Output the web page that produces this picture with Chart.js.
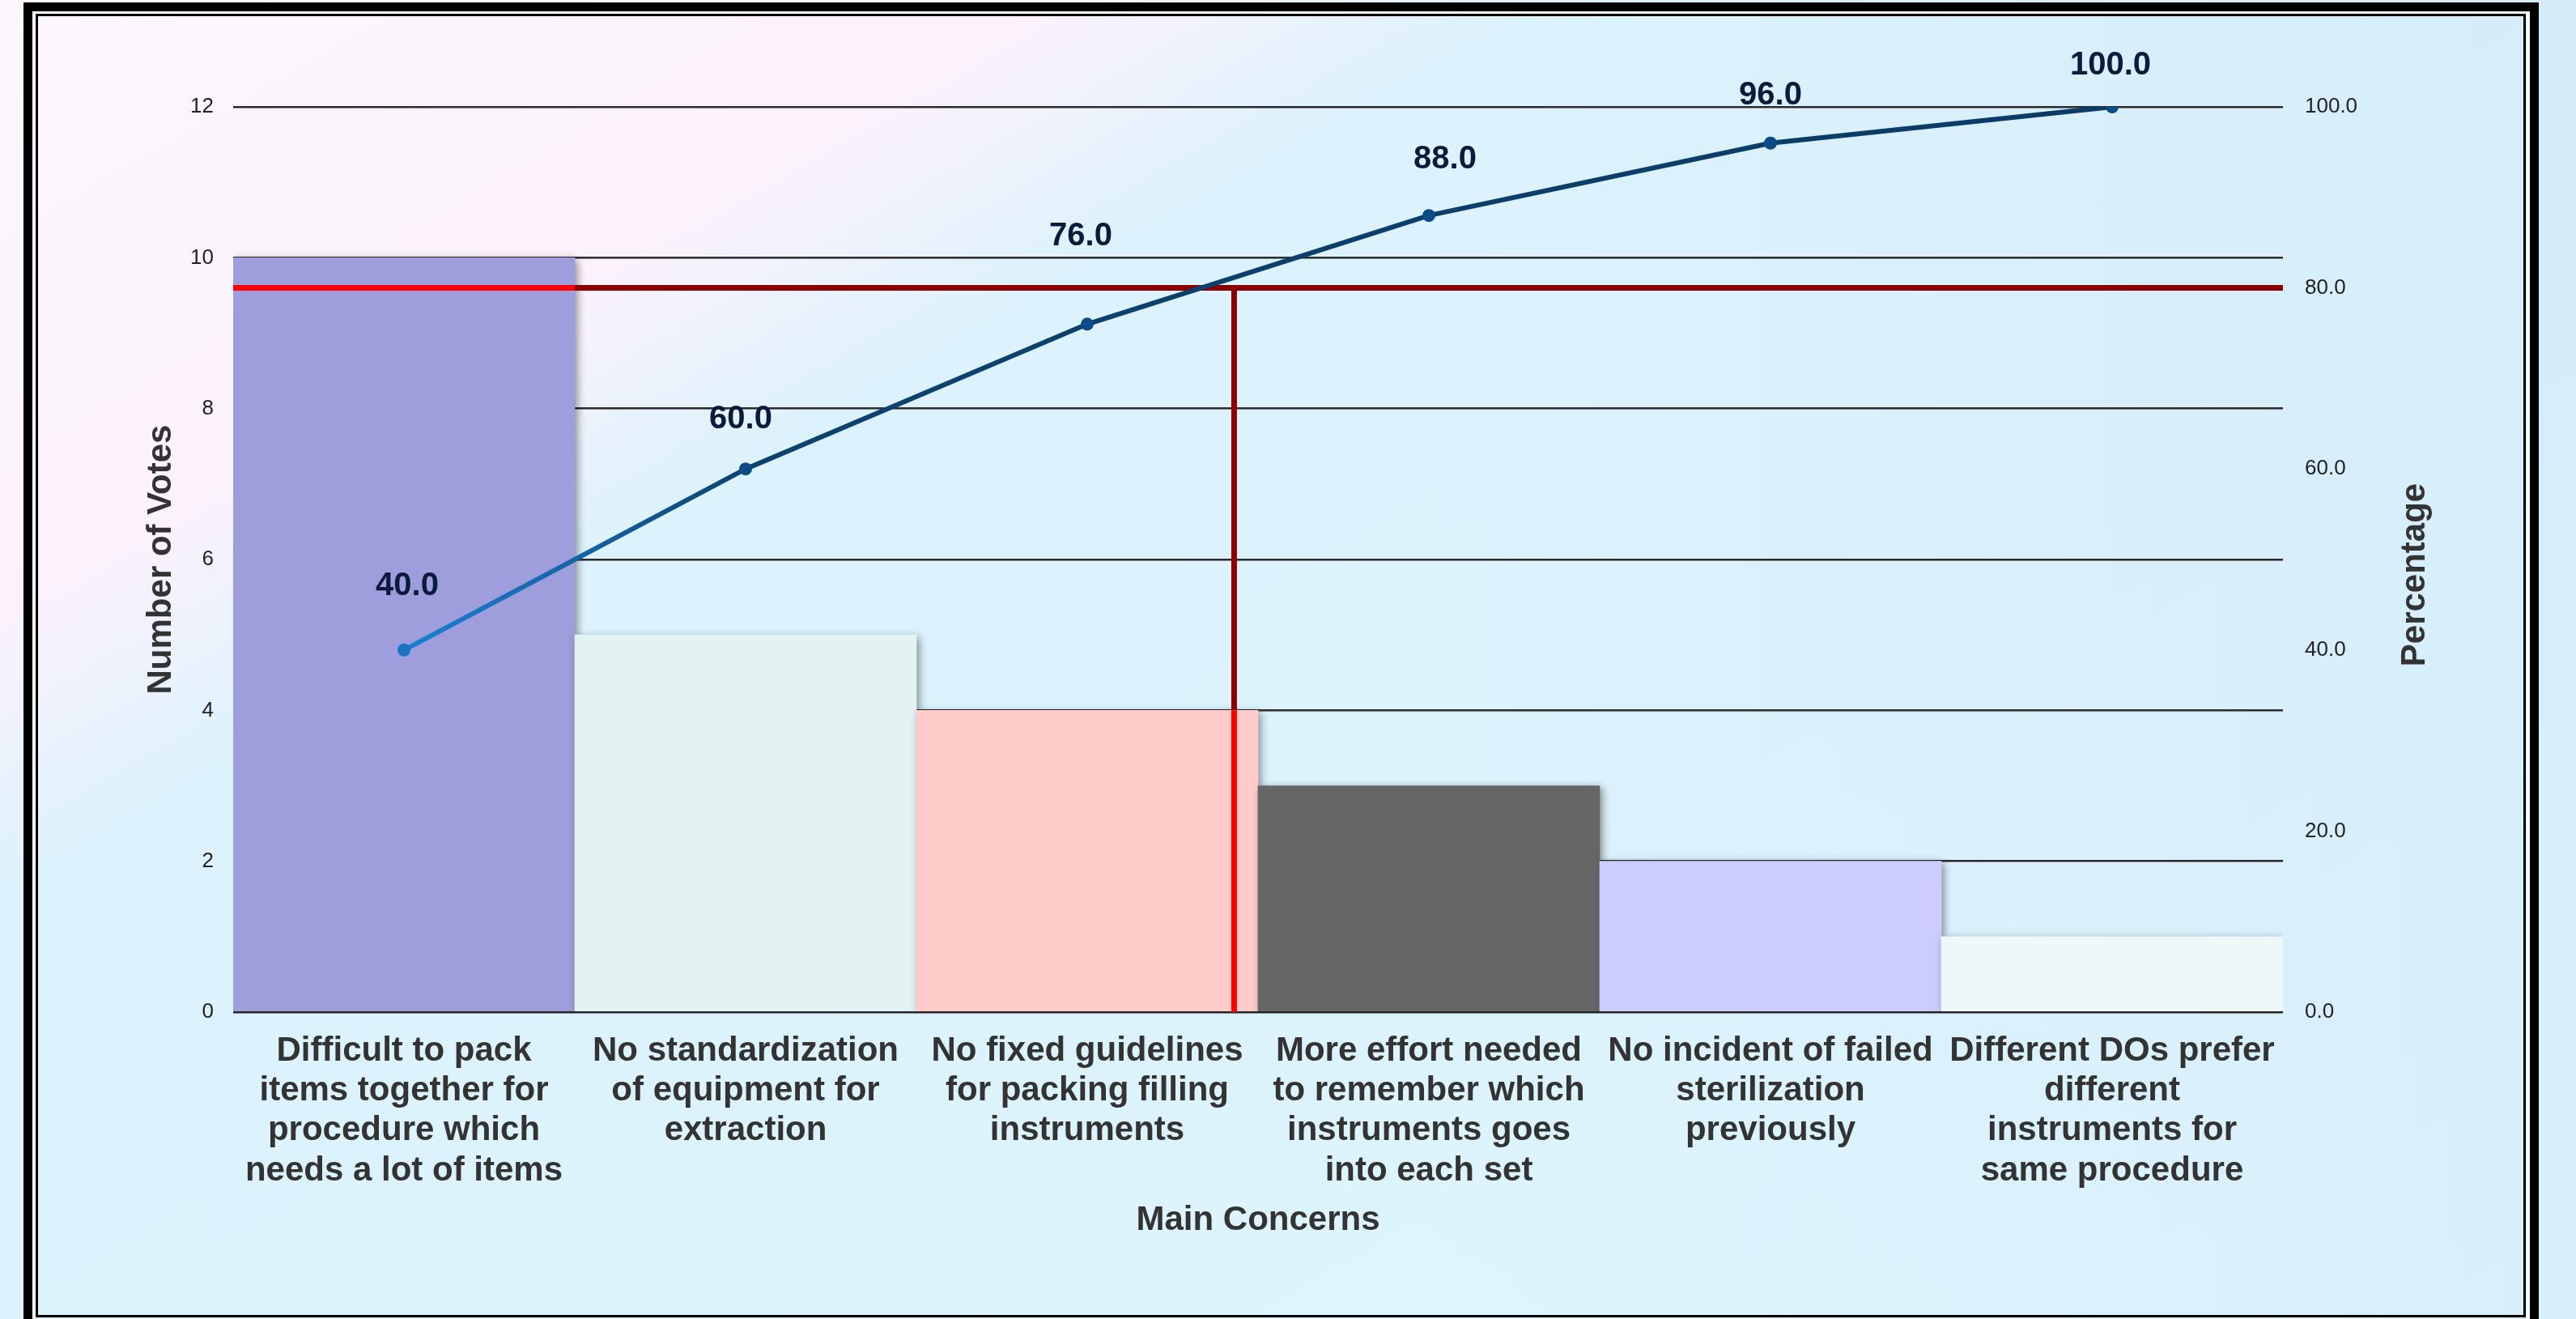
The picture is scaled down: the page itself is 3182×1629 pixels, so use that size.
<!DOCTYPE html>
<html>
<head>
<meta charset="utf-8">
<script src="https://cdn.jsdelivr.net/npm/chart.js@4/dist/chart.umd.min.js"></script>
<style>
  html, body { margin: 0; padding: 0; overflow: hidden; }
  body {
    width: 3182px; height: 1629px; position: relative;
    background:
      linear-gradient(90deg, rgba(214,235,250,0) 55%, rgba(210,232,250,0.6) 100%),
      linear-gradient(150deg, #fdf6fd 0%, #fbf2fc 22%, #dcf2fc 32%, #dcf3fc 62%, #e0f9fd 100%);
  }
  #wrap { position: absolute; left: 0; top: 0; width: 3182px; height: 1629px; }
  .frame-outer {
    position: absolute; left: 29px; top: 3px; width: 3107px; height: 1700px;
    border: 11px solid #000; box-sizing: border-box;
    box-shadow: inset 0 0 0 4px rgba(255,255,255,0.8);
    pointer-events: none;
  }
  .frame-inner {
    position: absolute; left: 44px; top: 17px; width: 3076px; height: 1610px;
    border: 3px solid #000; box-sizing: border-box; pointer-events: none;
  }
</style>
</head>
<body>
<div id="wrap"><canvas id="pareto"></canvas></div>
<div class="frame-outer"></div>
<div class="frame-inner"></div>
<script>
// chart data
var categories = [
    ['Difficult to pack', 'items together for', 'procedure which', 'needs a lot of items'],
    ['No standardization', 'of equipment for', 'extraction'],
    ['No fixed guidelines', 'for packing filling', 'instruments'],
    ['More effort needed', 'to remember which', 'instruments goes', 'into each set'],
    ['No incident of failed', 'sterilization', 'previously'],
    ['Different DOs prefer', 'different', 'instruments for', 'same procedure']
];
var votes = [10, 5, 4, 3, 2, 1];
var cumulativePct = [40.0, 60.0, 76.0, 88.0, 96.0, 100.0];
var voteTicks = [0, 2, 4, 6, 8, 10, 12];
var pctTicks = [0, 20, 40, 60, 80, 100];
var thresholdPct = 80;
var cutoffIndex = 2.43;   // where the 80% cut-off drops to the axis (category units)

var barColors = ['#9f9edd', '#e3f3f3', '#ffcccb', '#666666', '#cdccff', '#eff8f8'];
var FONT = "'Liberation Sans', Arial, sans-serif";

var voteMax = voteTicks[voteTicks.length - 1];
var pctMax = pctTicks[pctTicks.length - 1];
var xMin = -0.5, xMax = categories.length - 0.5;
// top of the bar the vertical cut-off line stands in, on the percentage axis
var cutBarTop = votes[Math.round(cutoffIndex)] / voteMax * pctMax;

function indexed(arr) {
    return arr.map(function (v, i) { return {x: i, y: v}; });
}

function lineGradient(ctx) {
    var chart = ctx.chart, a = chart.chartArea;
    if (!a) return '#0b3a66';
    var g = chart.ctx.createLinearGradient(a.left, 0, a.right, 0);
    g.addColorStop(0.08, '#1b82d6');
    g.addColorStop(0.17, '#1562a4');
    g.addColorStop(0.25, '#0d426f');
    g.addColorStop(1, '#0a3a66');
    return g;
}

var barShadow = {
    id: 'barShadow',
    beforeDatasetDraw: function (chart, args) {
        if (args.index !== 0) return;
        var c = chart.ctx;
        c.save();
        c.shadowColor = 'rgba(0,0,0,0.45)';
        c.shadowBlur = 10;
        c.shadowOffsetX = 3;
        c.shadowOffsetY = 3;
    },
    afterDatasetDraw: function (chart, args) {
        if (args.index === 0) chart.ctx.restore();
    }
};

var pointLabels = {
    id: 'pointLabels',
    afterDatasetsDraw: function (chart, args, opts) {
        var meta = chart.getDatasetMeta(opts.datasetIndex);
        var c = chart.ctx;
        c.save();
        c.font = 'bold 40px ' + FONT;
        c.fillStyle = '#0c1a3c';
        c.textAlign = 'center';
        c.textBaseline = 'middle';
        meta.data.forEach(function (pt, i) {
            c.fillText(cumulativePct[i].toFixed(1), pt.x + opts.dx[i], pt.y - opts.dy[i]);
        });
        c.restore();
    }
};

// right axis title reads bottom-to-top, like the left one
var rightTitle = {
    id: 'rightTitle',
    afterDraw: function (chart, args, opts) {
        var s = chart.scales.yp, c = chart.ctx;
        c.save();
        c.translate(s.right - opts.inset, (s.top + s.bottom) / 2 + opts.shift);
        c.rotate(-Math.PI / 2);
        c.font = 'bold 42px ' + FONT;
        c.fillStyle = '#333333';
        c.textAlign = 'center';
        c.textBaseline = 'middle';
        c.fillText(opts.text, 0, 0);
        c.restore();
    }
};

function refLine(points, color) {
    return {
        type: 'line', data: points, yAxisID: 'yp',
        borderColor: color, borderWidth: 7, pointRadius: 0,
        borderCapStyle: 'butt', order: 3
    };
}

new Chart(document.getElementById('pareto'), {
    type: 'bar',
    data: {
        datasets: [
            {
                type: 'bar',
                data: indexed(votes),
                backgroundColor: barColors,
                borderWidth: 0,
                barPercentage: 1,
                categoryPercentage: 1,
                yAxisID: 'y',
                order: 5
            },
            refLine([{x: xMin, y: thresholdPct}, {x: 0.5, y: thresholdPct}], '#ff0000'),
            refLine([{x: 0.5, y: thresholdPct}, {x: xMax, y: thresholdPct}], '#8b0000'),
            refLine([{x: cutoffIndex, y: 0}, {x: cutoffIndex, y: cutBarTop}], '#ff0000'),
            refLine([{x: cutoffIndex, y: cutBarTop}, {x: cutoffIndex, y: thresholdPct}], '#8b0000'),
            {
                type: 'line',
                data: indexed(cumulativePct),
                yAxisID: 'yp',
                borderColor: lineGradient,
                borderWidth: 6,
                tension: 0,
                pointRadius: 8,
                pointBorderWidth: 0,
                pointBackgroundColor: function (ctx) { return ctx.dataIndex === 0 ? '#1a72c0' : '#0b4c86'; },
                order: 1
            }
        ]
    },
    options: {
        responsive: true,
        maintainAspectRatio: false,
        animation: false,
        events: [],
        layout: { padding: { left: 150, right: 152, top: 132, bottom: 79 } },
        plugins: {
            legend: { display: false },
            tooltip: { enabled: false },
            pointLabels: {
                datasetIndex: 5,
                dx: [4, -6, -8, 20, 0, -2],
                dy: [79, 61, 108, 69, 59, 51]
            },
            rightTitle: { text: 'Percentage', inset: 47, shift: 19 }
        },
        scales: {
            x: {
                type: 'linear',
                min: xMin, max: xMax,
                offset: false,
                grid: { display: false, drawTicks: false, offset: false },
                border: { display: false },
                afterBuildTicks: function (s) { s.ticks = categories.map(function (c, i) { return {value: i}; }); },
                ticks: {
                    autoSkip: false, maxRotation: 0, minRotation: 0, padding: 24,
                    color: '#333333',
                    font: { family: FONT, size: 42, weight: 'bold', lineHeight: 1.17 },
                    callback: function (v) { return categories[Math.round(v)]; }
                },
                title: {
                    display: true, text: 'Main Concerns', color: '#333333',
                    font: { family: FONT, size: 42, weight: 'bold', lineHeight: 1.2 },
                    padding: { top: 0, bottom: 17 }
                },
                afterFit: function (s) { s.height = 300; }
            },
            y: {
                position: 'left',
                min: 0, max: voteMax,
                grid: { color: '#2a2a2a', lineWidth: 2.5, drawTicks: false },
                border: { display: false },
                afterBuildTicks: function (s) { s.ticks = voteTicks.map(function (v) { return {value: v}; }); },
                ticks: {
                    padding: 24, color: '#222222',
                    font: { family: FONT, size: 26 }
                },
                title: {
                    display: true, text: 'Number of Votes', color: '#333333',
                    font: { family: FONT, size: 42, weight: 'bold', lineHeight: 1.2 },
                    padding: { top: 24, bottom: 0 }
                },
                afterFit: function (s) { s.width = 138; }
            },
            yp: {
                position: 'right',
                min: 0, max: pctMax,
                grid: { display: false, drawTicks: false },
                border: { display: false },
                afterBuildTicks: function (s) { s.ticks = pctTicks.map(function (v) { return {value: v}; }); },
                ticks: {
                    padding: 27, color: '#222222',
                    font: { family: FONT, size: 26 },
                    callback: function (v) { return Number(v).toFixed(1); }
                },
                afterFit: function (s) { s.width = 210; }
            }
        }
    },
    plugins: [barShadow, pointLabels, rightTitle]
});
</script>
</body>
</html>
